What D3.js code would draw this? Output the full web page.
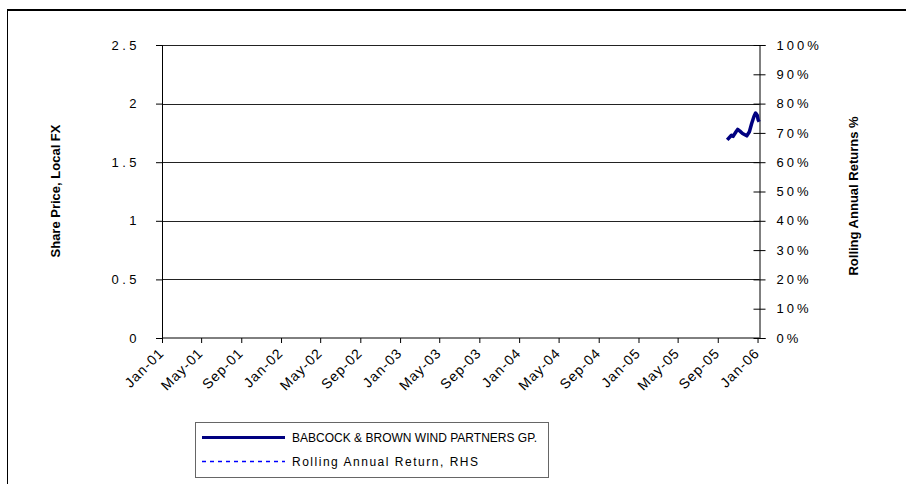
<!DOCTYPE html>
<html>
<head>
<meta charset="utf-8">
<script src="https://cdn.jsdelivr.net/npm/d3@7"></script>
<style>
  html, body { margin: 0; padding: 0; background: #fff; }
  svg { display: block; font-family: "Liberation Sans", Arial, sans-serif; }
</style>
</head>
<body>
<svg id="chart" width="906" height="484"></svg>
<script>
// ---------- data ----------
const priceDates = ["2005-09-30","2005-10-13","2005-10-18","2005-10-27","2005-11-01","2005-11-08",
  "2005-11-16","2005-11-29","2005-12-07","2005-12-14","2005-12-21","2005-12-26","2005-12-31",
  "2006-01-03","2006-01-06"];
const prices = [1.69,1.73,1.72,1.76,1.78,1.765,1.745,1.725,1.76,1.83,1.89,1.92,1.90,1.86,1.845];
const rollingReturnDates = [];
const rollingReturns = [];   // no full year of history yet
const leftTicks = [0, 0.5, 1, 1.5, 2, 2.5];
const leftTickLabels = ["0", "0.5", "1", "1.5", "2", "2.5"];
const rightTicks = [0, 0.1, 0.2, 0.3, 0.4, 0.5, 0.6, 0.7, 0.8, 0.9, 1.0];
const rightTickLabels = ["0%", "10%", "20%", "30%", "40%", "50%", "60%", "70%", "80%", "90%", "100%"];
const xTickDates = ["2001-01-01","2001-05-01","2001-09-01","2002-01-01","2002-05-01","2002-09-01",
  "2003-01-01","2003-05-01","2003-09-01","2004-01-01","2004-05-01","2004-09-01","2005-01-01",
  "2005-05-01","2005-09-01","2006-01-01"];
const xTickLabels = ["Jan-01","May-01","Sep-01","Jan-02","May-02","Sep-02","Jan-03","May-03",
  "Sep-03","Jan-04","May-04","Sep-04","Jan-05","May-05","Sep-05","Jan-06"];
const xDomain = ["2001-01-01", "2006-01-07"];
const seriesNames = ["BABCOCK & BROWN WIND PARTNERS GP.", "Rolling Annual Return, RHS"];

// ---------- layout ----------
const parse = d3.utcParse("%Y-%m-%d");
const svg = d3.select("#chart");
const plot = { left: 162, right: 759.5, top: 45, bottom: 338 };

const x = d3.scaleUtc().domain(xDomain.map(parse)).range([plot.left, plot.right]);
const yL = d3.scaleLinear().domain([0, 2.5]).range([plot.bottom, plot.top]);
const yR = d3.scaleLinear().domain([0, 1]).range([plot.bottom, plot.top]);

// outer frame
svg.append("line").attr("x1", 7).attr("x2", 906).attr("y1", 10).attr("y2", 10)
  .attr("stroke", "#000").attr("stroke-width", 2);
svg.append("line").attr("x1", 7.5).attr("x2", 7.5).attr("y1", 10).attr("y2", 484)
  .attr("stroke", "#000").attr("stroke-width", 1);

// gridlines
svg.append("g").selectAll("line").data(leftTicks.filter(d => d > 0)).join("line")
  .attr("x1", plot.left).attr("x2", plot.right)
  .attr("y1", d => Math.round(yL(d)) + 0.5).attr("y2", d => Math.round(yL(d)) + 0.5)
  .attr("stroke", "#222").attr("stroke-width", 1);

// left axis
const gL = svg.append("g").attr("transform", `translate(${plot.left},0)`)
  .call(d3.axisLeft(yL).tickValues(leftTicks).tickSize(6).tickPadding(16)
    .tickFormat((d, i) => leftTickLabels[i]));
gL.attr("font-size", 13);
gL.select(".domain").attr("stroke", "#000");
gL.selectAll(".tick line").attr("stroke", "#000");
gL.selectAll(".tick text").attr("font-size", 13).attr("fill", "#000")
  .attr("letter-spacing", "3.5px").attr("font-family", "Liberation Sans, Arial, sans-serif");

// right axis (cross ticks)
const gR = svg.append("g").attr("transform", `translate(${plot.right},0)`)
  .call(d3.axisRight(yR).tickValues(rightTicks).tickSize(6).tickPadding(11)
    .tickFormat((d, i) => rightTickLabels[i]));
gR.attr("font-size", 13);
gR.select(".domain").attr("stroke", "#000");
gR.selectAll(".tick line").attr("stroke", "#000").attr("x1", -6).attr("x2", 6);
gR.selectAll(".tick text").attr("font-size", 13).attr("fill", "#000")
  .attr("letter-spacing", "3px").attr("font-family", "Liberation Sans, Arial, sans-serif");

// bottom axis
const gB = svg.append("g").attr("transform", `translate(0,${plot.bottom})`)
  .call(d3.axisBottom(x).tickValues(xTickDates.map(parse)).tickSize(5).tickFormat(""));
gB.select(".domain").attr("stroke", "#000").attr("d", `M${plot.left},0H${plot.right}`);
gB.selectAll(".tick line").attr("stroke", "#000");
svg.append("g").selectAll("text").data(xTickDates).join("text")
  .attr("transform", d => `translate(${x(parse(d)) - 4},${plot.bottom + 9}) rotate(-45)`)
  .attr("text-anchor", "end").attr("dy", "0.7em")
  .attr("font-size", 14).attr("letter-spacing", "1px").attr("fill", "#000")
  .text((d, i) => xTickLabels[i]);

// axis titles
svg.append("text").attr("transform", `translate(60,191) rotate(-90)`)
  .attr("text-anchor", "middle").attr("font-size", 13).attr("font-weight", "bold")
  .text("Share Price, Local FX");
svg.append("text").attr("transform", `translate(858,196) rotate(-90)`)
  .attr("text-anchor", "middle").attr("font-size", 13).attr("font-weight", "bold")
  .text("Rolling Annual Returns %");

// series
const pricePts = priceDates.map((d, i) => [parse(d), prices[i]]);
svg.append("path").datum(pricePts)
  .attr("d", d3.line().x(d => x(d[0])).y(d => yL(d[1])))
  .attr("fill", "none").attr("stroke", "#000080").attr("stroke-width", 3.5)
  .attr("stroke-linejoin", "round");
const retPts = rollingReturnDates.map((d, i) => [parse(d), rollingReturns[i]]);
svg.append("path").datum(retPts)
  .attr("d", d3.line().x(d => x(d[0])).y(d => yR(d[1])))
  .attr("fill", "none").attr("stroke", "#0000ff").attr("stroke-width", 1.5)
  .attr("stroke-dasharray", "4,4");

// legend
const lg = svg.append("g");
lg.append("rect").attr("x", 195.5).attr("y", 422.5).attr("width", 353).attr("height", 55)
  .attr("fill", "#fff").attr("stroke", "#666").attr("stroke-width", 1);
lg.append("line").attr("x1", 202).attr("x2", 285).attr("y1", 437.5).attr("y2", 437.5)
  .attr("stroke", "#000080").attr("stroke-width", 3);
lg.append("line").attr("x1", 202).attr("x2", 285).attr("y1", 461.5).attr("y2", 461.5)
  .attr("stroke", "#0000ff").attr("stroke-width", 1.5).attr("stroke-dasharray", "4,4");
lg.append("text").attr("x", 292).attr("y", 442).attr("font-size", 12)
  .attr("textLength", 245).attr("lengthAdjust", "spacing").text(seriesNames[0]);
lg.append("text").attr("x", 292).attr("y", 466).attr("font-size", 12)
  .attr("textLength", 186).attr("lengthAdjust", "spacing").text(seriesNames[1]);
</script>
</body>
</html>
